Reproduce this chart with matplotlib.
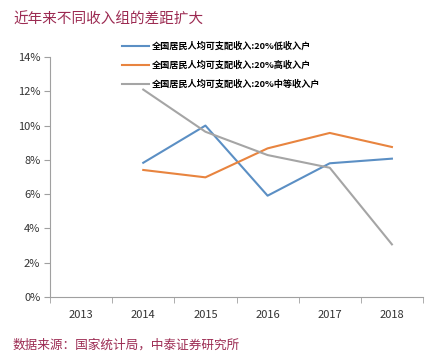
import matplotlib

matplotlib.use("Agg")
import matplotlib.pyplot as plt
from matplotlib.ticker import FixedLocator, FuncFormatter

plt.rcParams["font.family"] = ["Noto Sans CJK SC", "DejaVu Sans"]

YEARS = ["2013", "2014", "2015", "2016", "2017", "2018"]
LOW_INCOME = [None, 7.83, 10.0, 5.91, 7.80, 8.07]
HIGH_INCOME = [None, 7.41, 6.98, 8.67, 9.57, 8.75]
MIDDLE_INCOME = [None, 12.1, 9.64, 8.28, 7.54, 3.07]
SERIES_NAMES = [
    "全国居民人均可支配收入:20%低收入户",
    "全国居民人均可支配收入:20%高收入户",
    "全国居民人均可支配收入:20%中等收入户",
]
TITLE = "近年来不同收入组的差距扩大"
SOURCE = "数据来源：国家统计局，中泰证券研究所"

COLORS = ["#5b8fc4", "#e8843f", "#a5a5a5"]
AXIS_COLOR = "#a0a0a0"
TEXT_RED = "#9c2b52"

fig = plt.figure(figsize=(4.32, 3.6), dpi=100)
ax = fig.add_axes([50 / 432, 1 - 297 / 360, 373 / 432, 240 / 360])

x = list(range(len(YEARS)))
lines = []
for values, color, name in zip([LOW_INCOME, HIGH_INCOME, MIDDLE_INCOME], COLORS, SERIES_NAMES):
    xs = [i for i, v in zip(x, values) if v is not None]
    ys = [v for v in values if v is not None]
    (line,) = ax.plot(xs, ys, color=color, linewidth=1.5, label=name)
    lines.append(line)

ax.set_xlim(-0.5, len(YEARS) - 0.5)
ax.set_ylim(0, 14)
ax.set_yticks(range(0, 15, 2))
ax.yaxis.set_major_formatter(FuncFormatter(lambda v, _: f"{v:.0f}%"))
ax.set_xticks(x)
ax.set_xticklabels(YEARS)
ax.xaxis.set_minor_locator(FixedLocator([i - 0.5 for i in range(len(YEARS) + 1)]))
ax.tick_params(axis="x", which="major", length=0, pad=9, labelsize=8, labelcolor="#333333")
ax.tick_params(axis="x", which="minor", length=4, color=AXIS_COLOR, direction="out")
ax.tick_params(axis="y", length=4, color=AXIS_COLOR, labelsize=8, labelcolor="#333333", pad=3)

for side in ["top", "right"]:
    ax.spines[side].set_visible(False)
for side in ["left", "bottom"]:
    ax.spines[side].set_color(AXIS_COLOR)
    ax.spines[side].set_linewidth(0.8)

leg = ax.legend(
    handles=lines,
    loc="upper left",
    bbox_to_anchor=(68 / 373, 1 + 19 / 240),
    frameon=False,
    prop={"size": 6.6, "weight": "bold"},
    handlelength=3.0,
    handletextpad=0.3,
    labelspacing=1.05,
    borderaxespad=0,
)

fig.text(13 / 432, 1 - 20 / 360, TITLE, color=TEXT_RED, fontsize=10.5, va="center", ha="left")
fig.text(13 / 432, 1 - 345 / 360, SOURCE, color=TEXT_RED, fontsize=9.1, va="center", ha="left")

fig.savefig("out.png", dpi=100)
plt.close(fig)
